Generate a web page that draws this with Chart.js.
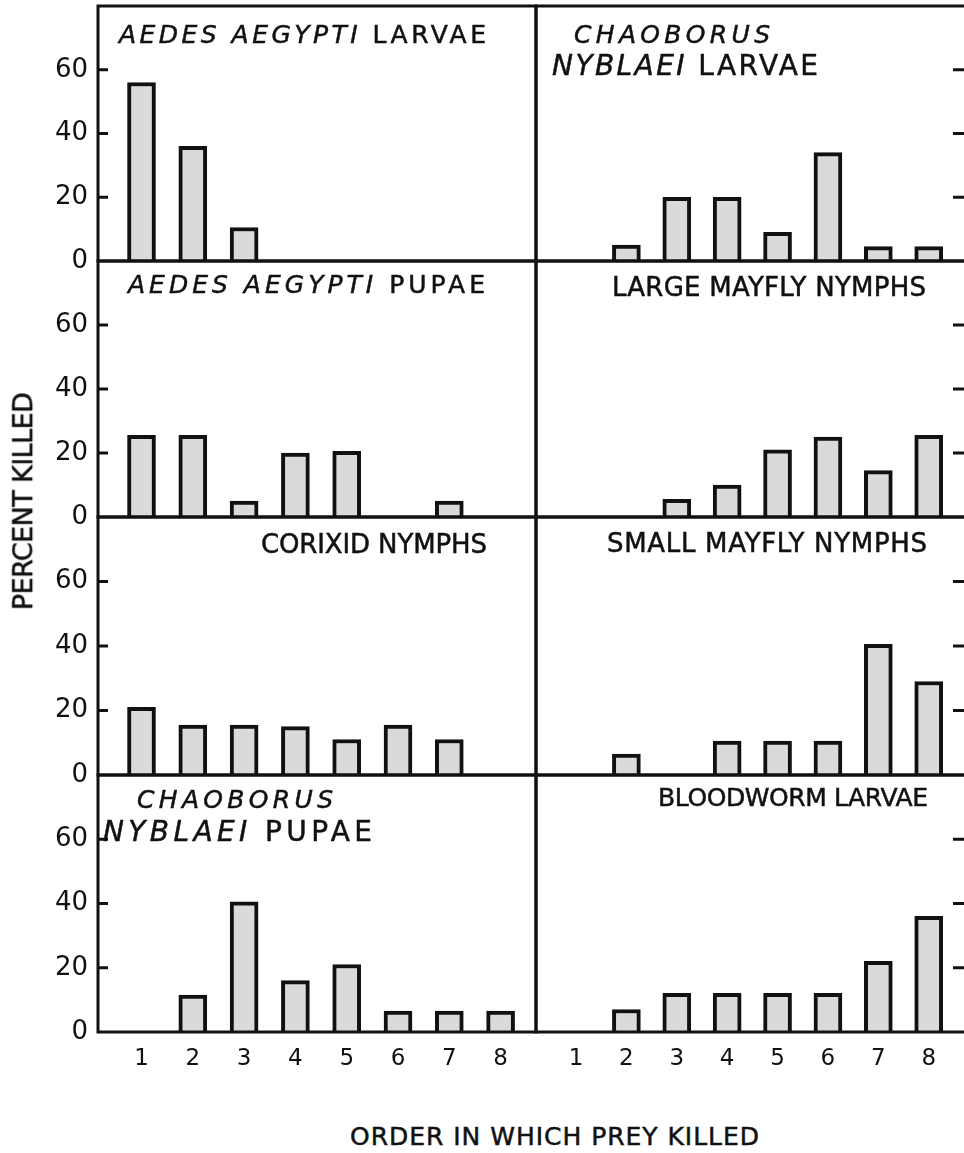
<!DOCTYPE html>
<html>
<head>
<meta charset="utf-8">
<script src="https://cdn.jsdelivr.net/npm/chart.js@4.4.1/dist/chart.umd.min.js"></script>
<style>
  html, body { margin: 0; padding: 0; background: #fff; overflow: hidden; }
  #wrap { position: relative; width: 964px; height: 1153px; overflow: hidden; }
  canvas { position: absolute; }
  .lbl { position: absolute; white-space: nowrap; font-family: "DejaVu Sans", sans-serif; color: #111; line-height: 1; -webkit-text-stroke: 0.5px #111; }
  .lbl i { font-style: italic; }
</style>
</head>
<body>
<div id="wrap"></div>
<script>
// order in which prey killed (x categories)
const order = [1, 2, 3, 4, 5, 6, 7, 8]
const yTicks = [0, 20, 40, 60]

// percent killed
const aedesLarvae = [56, 36, 10.5, 0, 0, 0, 0, 0]
const chaoborusLarvae = [0, 5, 20, 20, 9, 34, 4.5, 4.5]
const aedesPupae = [25.5, 25.5, 5, 20, 20.5, 0, 5, 0]
const largeMayfly = [0, 0, 5.5, 10, 21, 25, 14.5, 25.5]
const corixid = [21, 15.5, 15.5, 15, 11, 15.5, 11, 0]
const smallMayfly = [0, 6.5, 0, 10.5, 10.5, 10.5, 40.5, 29]
const chaoborusPupae = [0, 11.5, 40.5, 16, 21, 6.5, 6.5, 6.5]
const bloodworm = [0, 7, 12, 12, 12, 12, 22, 36]

const panels = [
  [aedesLarvae, chaoborusLarvae],
  [aedesPupae, largeMayfly],
  [corixid, smallMayfly],
  [chaoborusPupae, bloodworm]
]

// page layout of the grid
const colX = [98, 536, 966]
const rowY = [6, 261, 517, 775, 1032]
const xRange = [[0.152, 8.69], [0.206, 8.74]]
const extraBottom = 16

const wrap = document.getElementById('wrap')

// frame + inward tick marks
const framePlugin = {
  id: 'frame',
  afterDraw(chart, args, opts) {
    const ctx = chart.ctx
    const a = chart.chartArea
    const y = chart.scales.y
    ctx.save()
    ctx.strokeStyle = '#111'
    ctx.lineWidth = 3
    ctx.strokeRect(a.left, a.top, a.right - a.left, a.bottom - a.top)
    yTicks.slice(1).forEach(v => {
      const py = y.getPixelForValue(v)
      ctx.beginPath()
      if (opts.side === 'left') {
        ctx.moveTo(a.left, py)
        ctx.lineTo(a.left + 10, py)
      } else {
        ctx.moveTo(a.right - 13, py)
        ctx.lineTo(a.right, py)
      }
      ctx.stroke()
    })
    ctx.restore()
  }
}

const noPad = s => {
  s.paddingTop = 0
  s.paddingBottom = 0
  s.paddingLeft = 0
  s.paddingRight = 0
}

for (let r = 0; r < 4; r++) {
  for (let c = 0; c < 2; c++) {
    const span = rowY[r + 1] - rowY[r]
    const bottomRow = r === 3
    const canvas = document.createElement('canvas')
    const left = c === 0 ? 0 : colX[1] - 2
    const width = c === 0 ? colX[1] + 2 : 440
    const height = span + 2 + (bottomRow ? 62 : extraBottom)
    canvas.width = width
    canvas.height = height
    canvas.style.left = left + 'px'
    canvas.style.top = (rowY[r] - 2) + 'px'
    wrap.appendChild(canvas)

    const values = panels[r][c]
    new Chart(canvas.getContext('2d'), {
      type: 'bar',
      data: {
        datasets: [{
          data: order.map((x, i) => ({ x: x, y: values[i] })),
          backgroundColor: '#dadada',
          borderColor: '#111',
          borderWidth: 4,
          borderSkipped: 'bottom',
          barThickness: 28
        }]
      },
      options: {
        responsive: false,
        animation: false,
        events: [],
        layout: {
          padding: {
            top: 2,
            bottom: bottomRow ? 0 : extraBottom,
            left: c === 0 ? 0 : 2,
            right: c === 0 ? 2 : width - (colX[2] - left)
          }
        },
        plugins: {
          legend: { display: false },
          tooltip: { enabled: false },
          frame: { side: c === 0 ? 'left' : 'right' }
        },
        scales: {
          x: {
            type: 'linear',
            offset: false,
            display: bottomRow,
            min: xRange[c][0],
            max: xRange[c][1],
            afterBuildTicks: s => { s.ticks = order.map(v => ({ value: v })) },
            afterFit: s => {
              noPad(s)
              s.height = bottomRow ? 62 : 0
            },
            grid: { display: false, drawTicks: false, offset: false },
            border: { display: false },
            ticks: {
              color: '#111',
              padding: 13,
              font: { family: 'DejaVu Sans', size: 23 }
            }
          },
          y: {
            display: c === 0,
            min: 0,
            max: 80,
            afterBuildTicks: s => { s.ticks = yTicks.map(v => ({ value: v })) },
            afterFit: s => {
              noPad(s)
              s.width = c === 0 ? colX[0] : 0
            },
            grid: { display: false, drawTicks: false },
            border: { display: false },
            ticks: {
              color: '#111',
              padding: 10,
              font: { family: 'DejaVu Sans', size: 26 }
            }
          }
        }
      },
      plugins: [framePlugin]
    })
  }
}

// panel titles and axis titles as text
const titles = [
  { x: 119, y: 25, w: 367, fs: 25, html: '<i>AEDES AEGYPTI</i> LARVAE' },
  { x: 574, y: 25, w: 196, fs: 25, html: '<i>CHAOBORUS</i>' },
  { x: 552, y: 55, w: 266, fs: 28, html: '<i>NYBLAEI</i> LARVAE' },
  { x: 128, y: 275, w: 357, fs: 25, html: '<i>AEDES AEGYPTI</i> PUPAE' },
  { x: 612, y: 277, w: 314, fs: 26, html: 'LARGE MAYFLY NYMPHS' },
  { x: 261, y: 534, w: 226, fs: 26, html: 'CORIXID NYMPHS' },
  { x: 607, y: 533, w: 320, fs: 26, html: 'SMALL MAYFLY NYMPHS' },
  { x: 137, y: 790, w: 196, fs: 25, html: '<i>CHAOBORUS</i>' },
  { x: 103, y: 821, w: 269, fs: 28, html: '<i>NYBLAEI</i> PUPAE' },
  { x: 658, y: 788, w: 270, fs: 25, html: 'BLOODWORM LARVAE' },
  { x: 350, y: 1127, w: 409, fs: 25, html: 'ORDER IN WHICH PREY KILLED' }
]

function fitText(el, target) {
  const n = el.textContent.length
  el.style.letterSpacing = '0px'
  const w = el.getBoundingClientRect().width
  el.style.letterSpacing = ((target - w) / (n - 1)) + 'px'
}

titles.forEach(t => {
  const el = document.createElement('div')
  el.className = 'lbl'
  el.innerHTML = t.html
  el.style.fontSize = t.fs + 'px'
  el.style.left = t.x + 'px'
  el.style.top = (t.y - 0.117 * t.fs) + 'px'
  wrap.appendChild(el)
  fitText(el, t.w)
})

// rotated y-axis title
const yTitle = document.createElement('div')
yTitle.className = 'lbl'
yTitle.textContent = 'PERCENT KILLED'
yTitle.style.fontSize = '27px'
wrap.appendChild(yTitle)
fitText(yTitle, 218)
const box = yTitle.getBoundingClientRect()
yTitle.style.left = (23 - box.width / 2) + 'px'
yTitle.style.top = (501 - box.height / 2) + 'px'
yTitle.style.transform = 'rotate(-90deg)'
</script>
</body>
</html>
